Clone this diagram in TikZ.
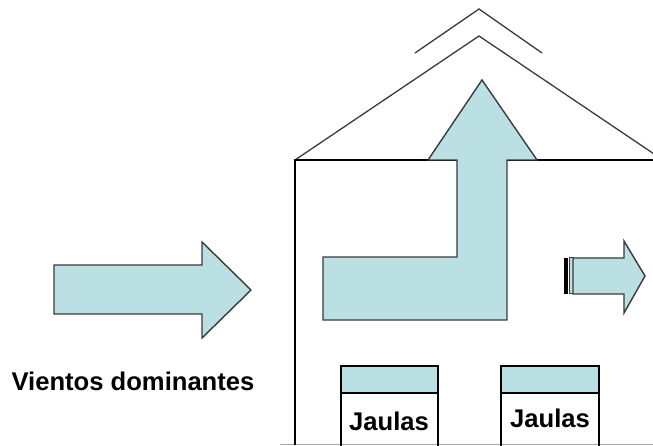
\documentclass[tikz,border=0pt]{standalone}
\usepackage{fontspec}
\setmainfont{Liberation Sans}
\definecolor{windfill}{HTML}{BBE0E3}
\definecolor{edge}{HTML}{3A3A3A}
\tikzset{
  x=1pt, y=-1pt,
  windarrow/.style={fill=windfill, draw=edge, line width=1.4pt, line join=miter},
  wall/.style={draw=black, line width=1.3pt},
  roofline/.style={draw=edge, line width=1.3pt},
  cage/.style={draw=black, line width=1.2pt},
  label/.style={font=\bfseries\fontsize{25.6}{30}\selectfont, inner sep=0pt}
}
\begin{document}
\begin{tikzpicture}
\useasboundingbox (0,0) rectangle (653,446);
\begin{scope}
\clip (0,0) rectangle (653,446);

% ground line
\draw[draw=black!35, line width=1pt] (280,444.5) -- (653,444.5);

% roof and chimney cap
\draw[roofline] (295,160) -- (479,36) -- (663,160);
\draw[roofline] (415,53) -- (479,9) -- (542,53);

% house walls
\draw[wall] (295,445) -- (295,160) -- (660,160);

% air flowing in and rising through the roof
\draw[windarrow] (323,257) -- (457,257) -- (457,160) -- (428,160) -- (482,80)
  -- (537,160) -- (507,160) -- (507,320) -- (323,320) -- cycle;

% prevailing wind arrow
\draw[windarrow] (54,265) -- (202,265) -- (202,242) -- (251,290)
  -- (202,338) -- (202,314) -- (54,314) -- cycle;

% striped exit arrow
\fill[black] (564,258) rectangle (567.5,294);
\draw[windarrow, line width=1pt] (569,258) rectangle (573,294);
\draw[windarrow] (573,258) -- (624,258) -- (624,241) -- (645,276)
  -- (624,313) -- (624,294) -- (573,294) -- cycle;

% cages
\draw[cage, fill=windfill] (341,366) rectangle (438,393);
\draw[cage] (341,393) -- (341,446) (438,393) -- (438,446);
\draw[cage, fill=windfill] (501,366) rectangle (599,393);
\draw[cage] (501,393) -- (501,446) (599,393) -- (599,446);
\end{scope}

\node[label] (wind) at (133,381) {Vientos dominantes};
\node[label] (cageA) at (389,421) {Jaulas};
\node[label] (cageB) at (550,418) {Jaulas};
\end{tikzpicture}
\end{document}
